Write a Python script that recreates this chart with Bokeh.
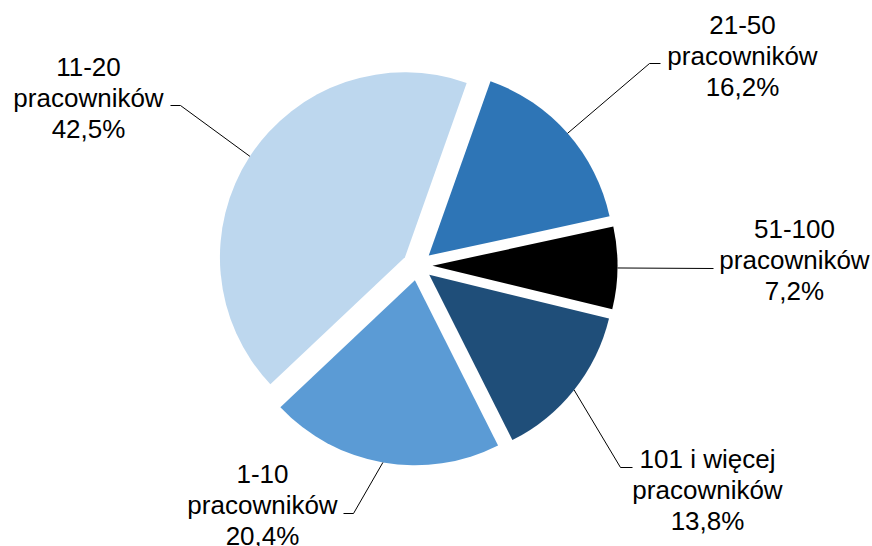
import math
from bokeh.plotting import figure
from bokeh.models import Range1d
from bokeh.core.properties import value
from bokeh.embed import file_html
from bokeh.resources import INLINE

# ---- data ----
categories = ["21-50", "51-100", "101 i więcej", "1-10", "11-20"]
unit_label = "pracowników"
shares = [16.2, 7.2, 13.8, 20.4, 42.5]
colors = ["#2E75B6", "#000000", "#1F4E79", "#5B9BD5", "#BDD7EE"]

# ---- layout (screen pixel coordinates) ----
W, H = 872, 546
def sy(y):  # screen y -> data y
    return H - y

CX, CY = 417, 265        # pie centre (screen)
R = 185                  # radius
EXPLODE = 15             # explosion distance
START_DEG = 19.5         # first slice start, clockwise from 12 o'clock

# label placement: centre x, first baseline y (screen), leader elbow and end
label_pos = [(742, 24), (794, 228), (707, 458), (262, 473), (88, 66)]
leader_pts = [((649, 63), (660, 63)),
              ((713, 268), (713, 268)),
              ((620, 467), (632, 467)),
              ((353, 513), (343, 513)),
              ((180, 105), (170, 105))]
LINE_H = 31

p = figure(width=W, height=H, output_backend="svg", toolbar_location=None,
           x_range=Range1d(0, W), y_range=Range1d(0, H),
           min_border=0)
p.axis.visible = False
p.grid.visible = False
p.outline_line_color = None
p.background_fill_color = "white"

total = sum(shares)
cum = START_DEG
xs, ys, starts, ends = [], [], [], []
lx, ly = [], []
for i, v in enumerate(shares):
    span = v / total * 360.0
    a0, a1 = cum, cum + span
    mid = math.radians((a0 + a1) / 2)
    dx, dy = math.sin(mid), -math.cos(mid)  # screen direction
    xs.append(CX + EXPLODE * dx)
    ys.append(sy(CY + EXPLODE * dy))
    starts.append(math.pi / 2 - math.radians(a0))
    ends.append(math.pi / 2 - math.radians(a1))
    # leader anchor on slice edge
    ax, ay = CX + (EXPLODE + R) * dx, CY + (EXPLODE + R) * dy
    (ex, ey), (fx, fy) = leader_pts[i]
    lx.append([ax, ex, fx])
    ly.append([sy(ay), sy(ey), sy(fy)])
    cum = a1

p.wedge(x=xs, y=ys, radius=R, start_angle=starts, end_angle=ends,
        direction="clock", fill_color=colors, line_color=None)

p.multi_line(xs=lx, ys=ly, line_color="black", line_width=1)

tx, ty, tt = [], [], []
for i, (c, v) in enumerate(zip(categories, shares)):
    x0, y0 = label_pos[i]
    lines = [c, unit_label, f"{v:.1f}".replace(".", ",") + "%"]
    for k, t in enumerate(lines):
        tx.append(x0)
        ty.append(sy(y0 + k * LINE_H))
        tt.append(t)

p.text(x=tx, y=ty, text=tt, text_font=value("Liberation Sans"),
       text_font_size="26px", text_align="center", text_baseline="alphabetic",
       text_color="black")

open("out.html", "w").write(file_html(p, INLINE))
